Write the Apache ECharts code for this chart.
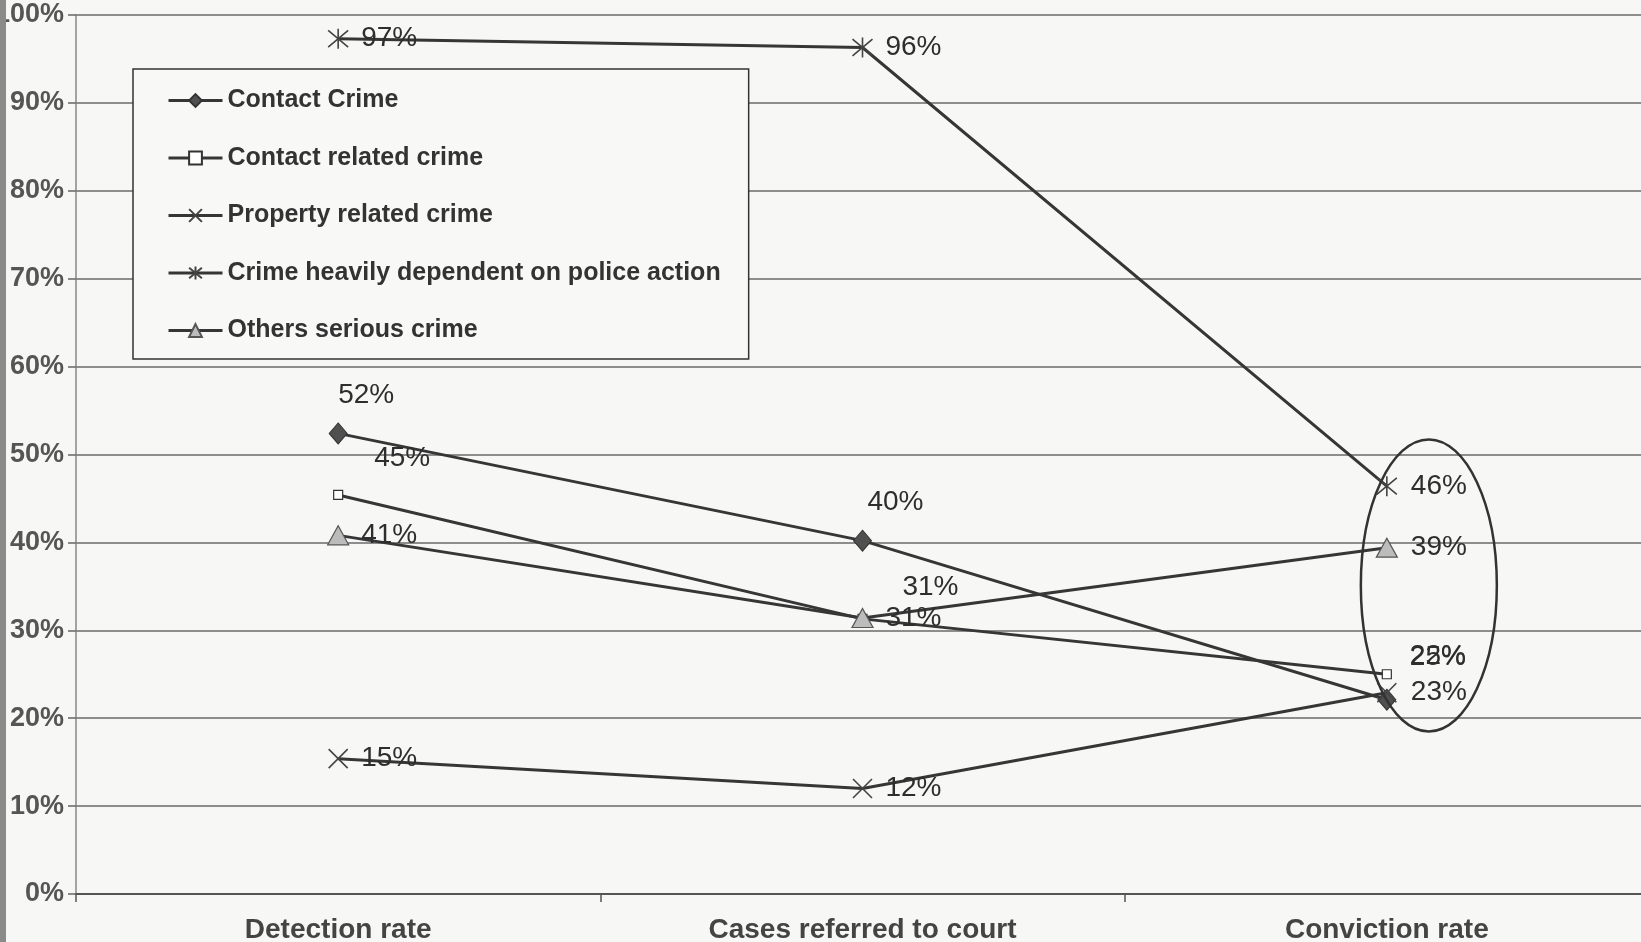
<!DOCTYPE html>
<html><head><meta charset="utf-8">
<script src="https://cdn.jsdelivr.net/npm/echarts@6/dist/echarts.min.js"></script>
<style>html,body{margin:0;padding:0;background:#f7f7f6;}#c{width:1641px;height:942px;}</style>
</head><body><div id="c"></div>
<script>
const categories = ['Detection rate', 'Cases referred to court', 'Conviction rate'];
const yTicks = [0, 10, 20, 30, 40, 50, 60, 70, 80, 90, 100];
const contactCrime = [52.4, 40.2, 22.1];
const contactRelated = [45.4, 31.3, 25.0];
const propertyRelated = [15.4, 12.0, 22.9];
const policeAction = [97.3, 96.3, 46.4];
const othersSerious = [40.8, 31.4, 39.4];
const seriesNames = ['Contact Crime', 'Contact related crime', 'Property related crime', 'Crime heavily dependent on police action', 'Others serious crime'];

const LINE = '#363636';
const LABEL_FONT = {fontFamily: 'Liberation Sans', fontSize: 28, color: '#2e2e2e'};
const xPath = 'path://M0,0L10,10M10,0L0,10';
const starPath = 'path://M0,0L10,10M10,0L0,10M5,-1L5,11';

function lbl(offsets) {
  return function (v, i) {
    return {value: v, label: Object.assign({show: true, position: 'inside', offset: offsets[i], formatter: Math.round(v) + '%'}, LABEL_FONT)};
  };
}
const rightOff = [[51, 0], [51, 0], [52, 0]];

const chart = echarts.init(document.getElementById('c'));
const option = {
  backgroundColor: '#f7f7f6',
  animation: false,
  grid: {left: 76, top: 15, width: 1573, bottom: 48, outerBoundsMode: 'none', containLabel: false},
  legend: {
    orient: 'vertical', left: 133, top: 69,
    data: seriesNames,
    padding: [19, 28, 16, 34],
    itemWidth: 54, itemHeight: 16, itemGap: 32.5,
    backgroundColor: '#f8f8f7', borderColor: '#333', borderWidth: 1.5, borderRadius: 0,
    lineStyle: {width: 3, color: LINE},
    textStyle: {fontFamily: 'Liberation Sans', fontSize: 25, fontWeight: 'bold', color: '#333', lineHeight: 25}
  },
  xAxis: {
    type: 'category', data: categories, boundaryGap: true,
    axisLine: {lineStyle: {color: '#555', width: 2}},
    axisTick: {show: true, length: 8, lineStyle: {color: '#555', width: 1.5}},
    axisLabel: {margin: 22, fontFamily: 'Liberation Sans', fontSize: 28, fontWeight: 'bold', color: '#444'}
  },
  yAxis: {
    type: 'value', min: 0, max: 100, interval: 10,
    axisLine: {show: true, lineStyle: {color: '#888', width: 1.5}},
    axisTick: {show: true, length: 8, lineStyle: {color: '#666', width: 1.5}},
    axisLabel: {margin: 12, fontFamily: 'Liberation Sans', fontSize: 27, fontWeight: 'bold', color: '#555', formatter: v => yTicks.includes(v) ? v + '%' : ''},
    splitLine: {lineStyle: {color: '#6a6a6a', width: 1.5}}
  },
  series: [
    {
      name: seriesNames[0], type: 'line', data: contactCrime.map(lbl([[28, -38], [33, -38], [51, -43]])),
      symbol: 'diamond', symbolSize: [18, 21],
      lineStyle: {color: LINE, width: 3}, itemStyle: {color: '#505050', borderColor: '#333', borderWidth: 1}
    },
    {
      name: seriesNames[1], type: 'line', data: contactRelated.map(lbl([[64, -37], [68, -32], [51, -17]])),
      symbol: 'rect', symbolSize: 9,
      lineStyle: {color: LINE, width: 3}, itemStyle: {color: '#fff', borderColor: '#333', borderWidth: 1.2}
    },
    {
      name: seriesNames[2], type: 'line', data: propertyRelated.map(lbl(rightOff)),
      symbol: xPath, symbolSize: 19,
      lineStyle: {color: LINE, width: 3}, itemStyle: {color: 'none', borderColor: '#444', borderWidth: 1.6}
    },
    {
      name: seriesNames[3], type: 'line', data: policeAction.map(lbl(rightOff)),
      symbol: starPath, symbolSize: 20,
      lineStyle: {color: LINE, width: 3}, itemStyle: {color: 'none', borderColor: '#444', borderWidth: 1.6}
    },
    {
      name: seriesNames[4], type: 'line', data: othersSerious.map(lbl(rightOff)),
      symbol: 'triangle', symbolSize: [21, 19],
      lineStyle: {color: LINE, width: 3}, itemStyle: {color: '#bcbcbc', borderColor: '#555', borderWidth: 1.2}
    }
  ]
};
chart.setOption(option);

const c = chart.convertToPixel({gridIndex: 0}, [2, 35.1]);
chart.setOption({
  graphic: [
    {type: 'rect', shape: {x: 0, y: 0, width: 6, height: 942}, style: {fill: '#8a8a8a'}, z: 100},
    {type: 'ellipse', shape: {cx: c[0] + 42, cy: c[1], rx: 68, ry: 146}, style: {fill: 'none', stroke: '#333', lineWidth: 2.5}, z: 100}
  ]
});
</script></body></html>
